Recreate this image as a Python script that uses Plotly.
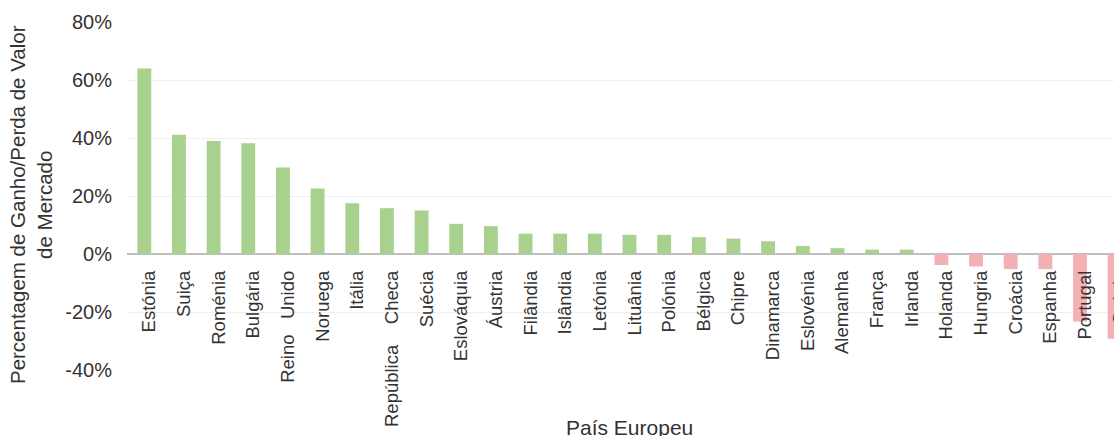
import plotly.graph_objects as go

# Market value gain/loss by European country
countries = [
    "Estónia", "Suiça", "Roménia", "Bulgária", "Reino\u00a0\u00a0\u00a0Unido", "Noruega",
    "Itália", "República\u00a0\u00a0\u00a0\u00a0Checa", "Suécia", "Eslováquia", "Áustria",
    "Filândia", "Islândia", "Letónia", "Lituânia", "Polónia", "Bélgica",
    "Chipre", "Dinamarca", "Eslovénia", "Alemanha", "França", "Irlanda",
    "Holanda", "Hungria", "Croácia", "Espanha", "Portugal", "Grécia",
]
change = [
    0.640, 0.411, 0.390, 0.382, 0.298, 0.226,
    0.175, 0.158, 0.150, 0.104, 0.096,
    0.070, 0.070, 0.070, 0.066, 0.066, 0.058,
    0.053, 0.044, 0.028, 0.020, 0.015, 0.015,
    -0.038, -0.043, -0.052, -0.052, -0.233, -0.292,
]
y_ticks = [-0.4, -0.2, 0.0, 0.2, 0.4, 0.6, 0.8]
y_tick_text = ["-40%", "-20%", "0%", "20%", "40%", "60%", "80%"]

GAIN = "#a9d18e"
LOSS = "#f3b1b3"
FONT = "Liberation Sans, Arial, sans-serif"
TEXT = "#333333"

y_min, y_max = -0.4, 0.8

fig = go.Figure(
    go.Bar(
        x=countries,
        y=change,
        marker=dict(color=[GAIN if v >= 0 else LOSS for v in change], line=dict(width=0)),
        hoverinfo="x+y",
    )
)

fig.update_layout(
    width=1150,
    height=436,
    margin=dict(l=127, r=18, t=22, b=66),
    paper_bgcolor="white",
    plot_bgcolor="white",
    bargap=0.6,
    showlegend=False,
    font=dict(family=FONT, color=TEXT),
    xaxis=dict(
        type="category",
        range=[-0.5, len(countries) - 0.5],
        anchor="free",
        position=(0 - y_min) / (y_max - y_min),
        automargin=False,
        tickangle=-90,
        tickfont=dict(size=18.5, color=TEXT, family=FONT),
        ticks="",
        showline=False,
        showgrid=False,
        ticklabelstandoff=12,
        ticklabelshift=5,
    ),
    yaxis=dict(
        range=[y_min, y_max],
        tickvals=y_ticks,
        ticktext=y_tick_text,
        automargin=False,
        tickfont=dict(size=20, color=TEXT, family=FONT),
        showgrid=True,
        gridcolor="#f0f0f0",
        gridwidth=1,
        zeroline=True,
        zerolinecolor="#bfbfbf",
        zerolinewidth=2,
        showline=False,
        ticks="",
        ticklabelstandoff=14,
    ),
    annotations=[
        dict(
            text="Percentagem de Ganho/Perda de Valor<br>de Mercado",
            textangle=-90,
            xref="paper", yref="paper",
            x=0, y=0.474,
            xanchor="center", yanchor="middle",
            xshift=-96,
            showarrow=False,
            font=dict(size=20.5, color=TEXT, family=FONT),
        ),
        dict(
            text="País Europeu",
            xref="paper", yref="paper",
            x=0.5, y=-0.164,
            xanchor="center", yanchor="middle",
            showarrow=False,
            font=dict(size=21, color=TEXT, family=FONT),
        ),
    ],
)

fig.write_html(
    "out.html",
    post_script="document.documentElement.style.overflow='hidden';document.body.style.overflow='hidden';document.body.style.margin='0';",
)
